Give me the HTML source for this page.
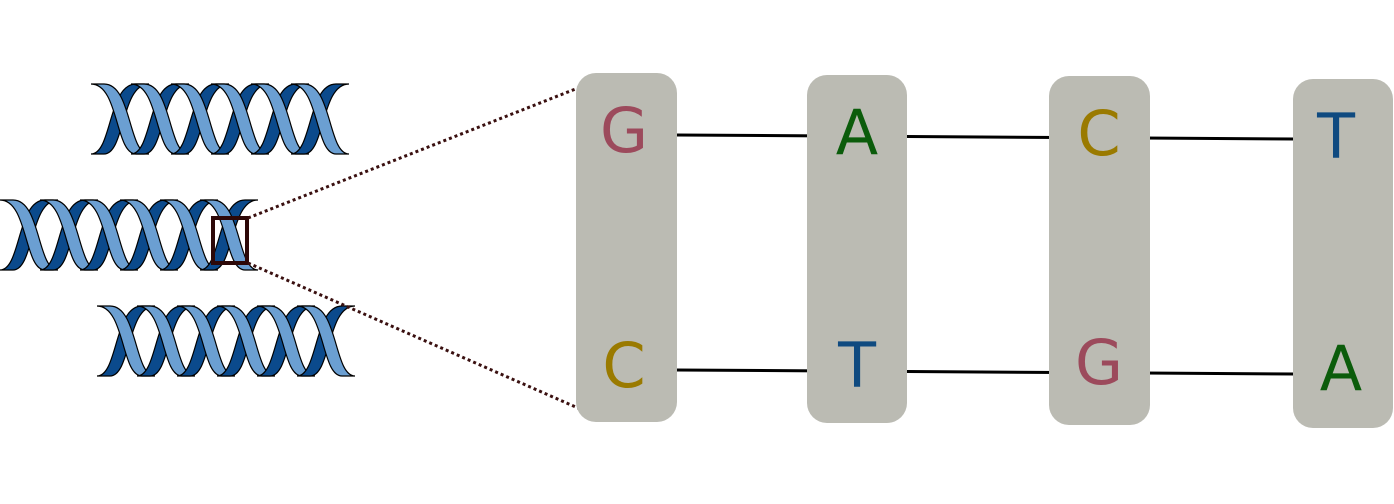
<!DOCTYPE html>
<html><head><meta charset="utf-8"><style>
html,body{margin:0;padding:0;background:#fff;width:1394px;height:504px;overflow:hidden}
</style></head><body>
<svg width="1394" height="504" viewBox="0 0 1394 504" xmlns="http://www.w3.org/2000/svg">
<defs>
<g id="unit">
  <path d="M45,0 L58,0 C30,0 34,70 13,70 L0,70 C21,70 17,0 45,0 Z" fill="#0b4a8c" stroke="#000" stroke-width="1.2"/>
  <path d="M0,0 L13,0 C41,0 37,70 58,70 L45,70 C24,70 28,0 0,0 Z" fill="#6b9fd2" stroke="#000" stroke-width="1.2"/>
</g>
<g id="helix">
  <use href="#unit" x="0"/><use href="#unit" x="40"/><use href="#unit" x="80"/>
  <use href="#unit" x="120"/><use href="#unit" x="160"/><use href="#unit" x="200"/>
</g>
</defs>
<use href="#helix" x="91" y="84"/>
<use href="#helix" x="0" y="200"/>
<use href="#helix" x="97" y="306"/>
<rect x="213" y="218" width="34" height="45" fill="none" stroke="#2d0808" stroke-width="4"/>
<line x1="248" y1="218" x2="578" y2="88" stroke="#3a1010" stroke-width="3" stroke-dasharray="3 3"/>
<line x1="248" y1="263" x2="578" y2="408" stroke="#3a1010" stroke-width="3" stroke-dasharray="3 3"/>
<g stroke="#000" stroke-width="3">
<line x1="676" y1="135" x2="1295" y2="139"/>
<line x1="676" y1="370" x2="1295" y2="374"/>
</g>
<g fill="#bbbbb3">
<rect x="576" y="73" width="101" height="349" rx="20"/>
<rect x="807" y="75" width="100" height="348" rx="20"/>
<rect x="1049" y="76" width="101" height="349" rx="20"/>
<rect x="1293" y="79" width="100" height="349" rx="20"/>
</g>
<g font-family="'DejaVu Sans','Liberation Sans',sans-serif" font-size="62" text-anchor="middle">
<text x="624" y="152" fill="#9c4a5c">G</text>
<text x="857" y="154" fill="#0b5c0b">A</text>
<text x="1099" y="155" fill="#9a7a00">C</text>
<text x="1336" y="158" fill="#0f4a80">T</text>
<text x="624" y="387" fill="#9a7a00">C</text>
<text x="857" y="387" fill="#0f4a80">T</text>
<text x="1099" y="384" fill="#9c4a5c">G</text>
<text x="1341" y="390" fill="#0b5c0b">A</text>
</g>
</svg>
</body></html>
